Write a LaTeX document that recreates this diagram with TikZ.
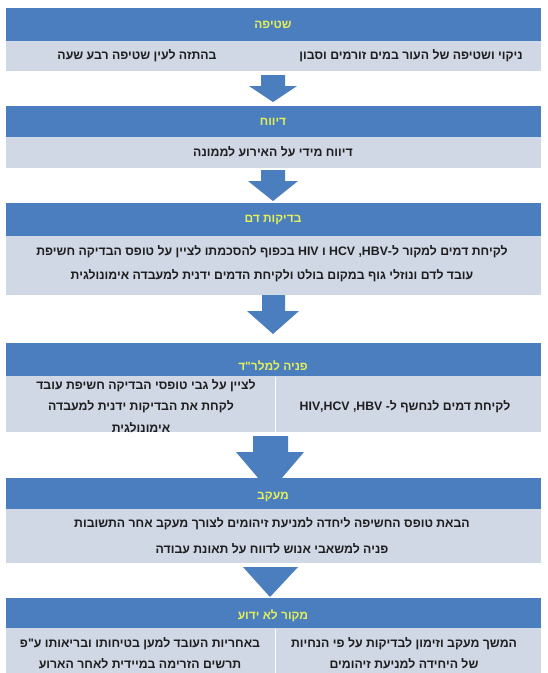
\documentclass[tikz,border=0pt]{standalone}
\usepackage{fontspec}
\newfontfamily\heb[Script=Hebrew]{Liberation Sans}
\TeXXeTstate=1
\newcommand\hl[1]{\beginR #1\endR}
\definecolor{hdrblue}{HTML}{4A7EBF}
\definecolor{rowfill}{HTML}{D0D7E5}
\definecolor{hdrtext}{HTML}{E4EF5A}
\definecolor{arrowblue}{HTML}{4A7EBF}
\definecolor{rowtext}{HTML}{1E1E1E}
\begin{document}
\begin{tikzpicture}[x=1pt,y=1pt]
\tikzset{
  every node/.style={inner sep=0pt, outer sep=0pt},
  hdrbox/.style={fill=hdrblue, minimum width=535pt, anchor=north west},
  rowbox/.style={fill=rowfill, minimum width=535pt, anchor=north west},
  htext/.style={text=hdrtext, font=\heb\bfseries\fontsize{12}{14}\selectfont},
  rtext/.style={text=rowtext, font=\heb\bfseries\fontsize{12.3}{14}\selectfont, align=center},
  barrow/.style={fill=arrowblue},
  divider/.style={draw=white, line width=1pt}
}
\useasboundingbox (0,0) rectangle (547,-673);
\fill[white] (0,0) rectangle (547,-673);

% Section 1
\node[hdrbox, minimum height=33pt] (h1) at (6,-8) {};
\node[rowbox, minimum height=30pt] (r1) at (6,-41) {};
\node[htext] (h1t) at (273,-25) {\hl{שטיפה}};
\node[rtext] (r1a) at (411,-56) {\hl{ניקוי ושטיפה של העור במים זורמים וסבון}};
\node[rtext] (r1b) at (137,-56) {\hl{בהתזה לעין שטיפה רבע שעה}};

% Arrow 1
\fill[barrow] (261,-75) -- (285,-75) -- (285,-86) -- (297,-86) -- (273,-102) -- (249,-86) -- (261,-86) -- cycle;

% Section 2
\node[hdrbox, minimum height=31pt] (h2) at (6,-106) {};
\node[rowbox, minimum height=31pt] (r2) at (6,-137) {};
\node[htext] (h2t) at (273,-122) {\hl{דיווח}};
\node[rtext] (r2a) at (273,-152) {\hl{דיווח מידי על האירוע לממונה}};

% Arrow 2
\fill[barrow] (261,-170) -- (285,-170) -- (285,-181) -- (298,-181) -- (273,-201) -- (248,-181) -- (261,-181) -- cycle;

% Section 3
\node[hdrbox, minimum height=33pt] (h3) at (6,-203) {};
\node[rowbox, minimum height=59pt] (r3) at (6,-236) {};
\node[htext] (h3t) at (273,-220) {\hl{בדיקות דם}};
\node[rtext] (r3a) at (272,-252) {\hl{לקיחת דמים למקור ל-HBV, HCV ו HIV בכפוף להסכמתו לציין על טופס הבדיקה חשיפת}};
\node[rtext] (r3b) at (272,-276) {\hl{עובד לדם ונוזלי גוף במקום בולט ולקיחת הדמים ידנית למעבדה אימונולגית}};

% Arrow 3
\fill[barrow] (262,-295) -- (285,-295) -- (285,-311) -- (299,-311) -- (273,-334) -- (247,-311) -- (262,-311) -- cycle;

% Section 4
\node[hdrbox, minimum height=33pt] (h4) at (6,-343) {};
\node[rowbox, minimum height=56pt] (r4) at (6,-376) {};
\draw[divider] (275,-377) -- (275,-432);
\node[htext] (h4t) at (273,-366) {\hl{פניה למלר"ד}};
\node[rtext] (r4a) at (405,-407) {\hl{לקיחת דמים לנחשף ל- \beginL HIV,HCV ,HBV\endL{}}};
\node[rtext] (r4b) at (146,-386) {\hl{לציין על גבי טופסי הבדיקה חשיפת עובד}};
\node[rtext] (r4c) at (141,-407) {\hl{לקחת את הבדיקות ידנית למעבדה}};
\node[rtext] (r4d) at (141,-428) {\hl{אימונולגית}};

% Arrow 4
\fill[barrow] (253,-436) -- (288,-436) -- (288,-452) -- (304,-452) -- (270,-492) -- (236,-452) -- (253,-452) -- cycle;

% Section 5
\node[hdrbox, minimum height=31pt] (h5) at (6,-478) {};
\node[rowbox, minimum height=54pt] (r5) at (6,-509) {};
\fill[barrow] (253,-478) -- (288,-478) -- (270,-492) -- cycle;
\node[htext] (h5t) at (273,-497) {\hl{מעקב}};
\node[rtext] (r5a) at (272,-524) {\hl{הבאת טופס החשיפה ליחדה למניעת זיהומים לצורך מעקב אחר התשובות}};
\node[rtext] (r5b) at (272,-549) {\hl{פניה למשאבי אנוש לדווח על תאונת עבודה}};

% Arrow 5
\fill[barrow] (243,-567) -- (298,-567) -- (270,-597) -- cycle;

% Section 6
\node[hdrbox, minimum height=30pt] (h6) at (6,-598) {};
\node[rowbox, minimum height=52pt] (r6) at (6,-628) {};
\draw[divider] (275,-629) -- (275,-673);
\node[htext] (h6t) at (273,-616) {\hl{מקור לא ידוע}};
\node[rtext] (r6a) at (404,-644) {\hl{המשך מעקב וזימון לבדיקות על פי הנחיות}};
\node[rtext] (r6b) at (404,-664) {\hl{של היחידה למניעת זיהומים}};
\node[rtext] (r6c) at (140,-644) {\hl{באחריות העובד למען בטיחותו ובריאותו ע"פ}};
\node[rtext] (r6d) at (140,-664) {\hl{תרשים הזרימה במיידית לאחר הארוע}};
\end{tikzpicture}
\end{document}
